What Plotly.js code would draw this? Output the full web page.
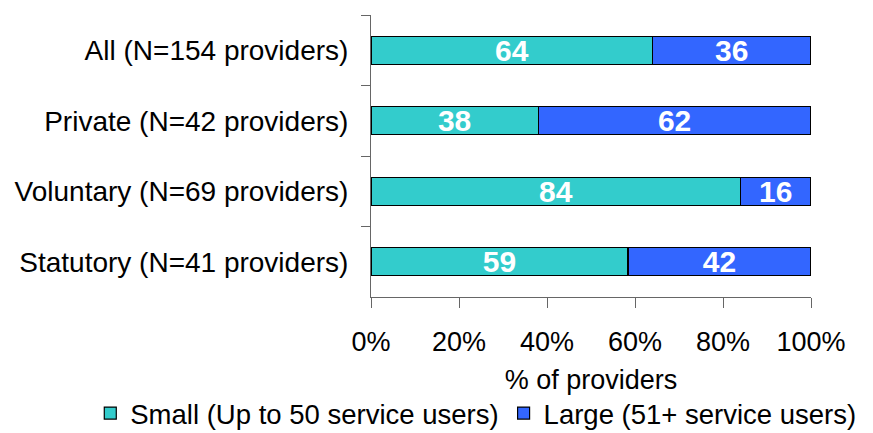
<!DOCTYPE html>
<html>
<head>
<meta charset="utf-8">
<script src="https://cdn.plot.ly/plotly-3.0.1.min.js"></script>
<style>html,body{margin:0;padding:0;background:#fff;}#chart{width:873px;height:433px;}</style>
</head>
<body>
<div id="chart"></div>
<script>
const categories = ['All (N=154 providers)', 'Private (N=42 providers)', 'Voluntary (N=69 providers)', 'Statutory (N=41 providers)'];
const smallValues = [64, 38, 84, 59];
const largeValues = [36, 62, 16, 42];
const seriesNames = ['Small (Up to 50 service users)', 'Large (51+ service users)'];
const xTickVals = [0, 20, 40, 60, 80, 100];
const xTickText = ['0%', '20%', '40%', '60%', '80%', '100%'];

const FONT = 'Liberation Sans, Arial, sans-serif';
const labelFont = {family: FONT, size: 30, color: '#fff', weight: 'bold'};

const traces = [
  {type: 'bar', orientation: 'h', name: seriesNames[0], y: categories, x: smallValues,
   text: smallValues.map(String), textposition: 'inside', insidetextanchor: 'middle',
   textfont: labelFont, constraintext: 'none', cliponaxis: false,
   marker: {color: '#33CCCC', line: {color: '#000', width: 1.2}}, hoverinfo: 'x+y'},
  {type: 'bar', orientation: 'h', name: seriesNames[1], y: categories, x: largeValues,
   text: largeValues.map(String), textposition: 'inside', insidetextanchor: 'middle',
   textfont: labelFont, constraintext: 'none', cliponaxis: false,
   marker: {color: '#3366FF', line: {color: '#000', width: 1.2}}, hoverinfo: 'x+y'}
];

const layout = {
  width: 873, height: 433,
  margin: {l: 371, r: 62, t: 15, b: 136, autoexpand: false},
  paper_bgcolor: '#fff', plot_bgcolor: '#fff',
  font: {family: FONT, size: 28, color: '#000'},
  barmode: 'stack', barnorm: 'percent', bargap: 0.6,
  showlegend: true,
  legend: {orientation: 'h', x: -0.638, xanchor: 'left', y: -0.412, yanchor: 'middle',
           font: {family: FONT, size: 27.5, color: '#000'}, traceorder: 'normal', itemwidth: 30,
           tracegroupgap: 0},
  xaxis: {range: [0, 100], tickvals: xTickVals, ticktext: xTickText,
          showgrid: false, zeroline: false, showline: true, linecolor: '#666', linewidth: 1,
          ticks: 'outside', ticklen: 10, tickcolor: '#666', ticklabelstandoff: 11,
          tickfont: {family: FONT, size: 27, color: '#000'},
          title: {text: '% of providers', font: {family: FONT, size: 27, color: '#000'}, standoff: 13},
          automargin: false, fixedrange: true},
  yaxis: {type: 'category', autorange: 'reversed', tickson: 'boundaries',
          showgrid: false, zeroline: false, showline: true, linecolor: '#666', linewidth: 1,
          ticks: 'outside', ticklen: 9, tickcolor: '#666', ticklabelstandoff: 16,
          tickfont: {family: FONT, size: 28, color: '#000'}, automargin: false, fixedrange: true}
};

Plotly.newPlot('chart', traces, layout, {displayModeBar: false, staticPlot: true});
</script>
</body>
</html>
